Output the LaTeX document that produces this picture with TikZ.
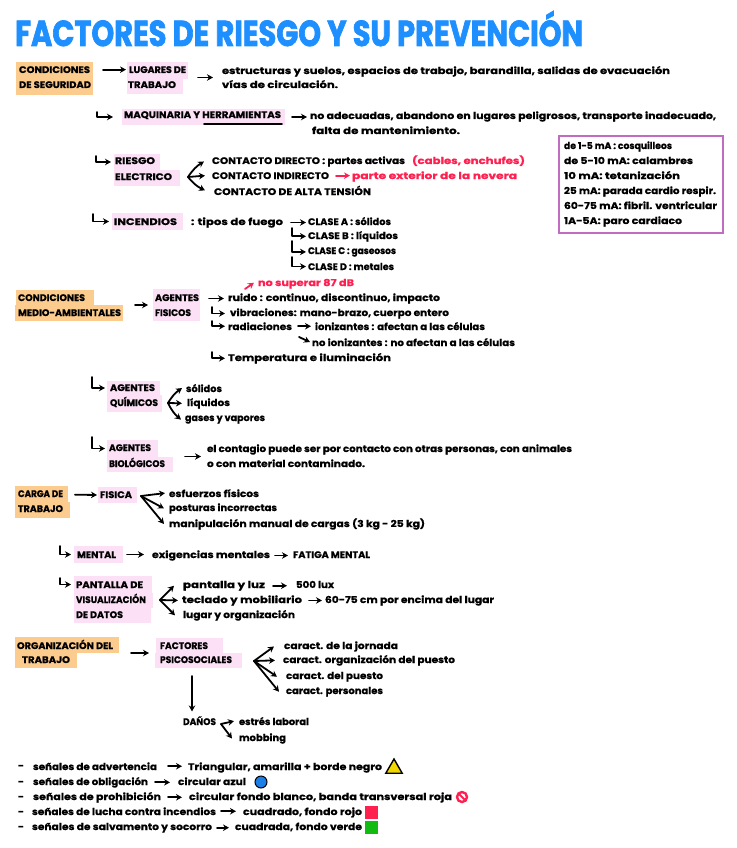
\documentclass[tikz,border=0pt]{standalone}
\usepackage{fontspec}
\usepackage{graphicx}
\setmainfont{Poppins}[BoldFeatures={FakeBold=0.7}]
\newfontfamily\titlefont{Poppins}[UprightFeatures={FakeBold=0},BoldFeatures={FakeBold=2.2}]
\usetikzlibrary{arrows.meta,calc,shapes.geometric}
\definecolor{titleblue}{HTML}{1E8FFF}
\definecolor{hlorange}{HTML}{FCCB8E}
\definecolor{hlpink}{HTML}{FBE0F6}
\definecolor{signred}{HTML}{FF2050}
\definecolor{boxpurple}{HTML}{C06CC0}
\definecolor{signgreen}{HTML}{12BB12}
\definecolor{signblue}{HTML}{1C7FE8}
\definecolor{signyellow}{HTML}{F2D600}
\tikzset{
  lab/.style={anchor=base west,inner sep=0pt,outer sep=0pt,font=\fontsize{9.5}{10}\selectfont\bfseries},
  orangehl/.style={fill=hlorange,inner sep=0pt,outer sep=0pt,anchor=north west},
  pinkhl/.style={fill=hlpink,inner sep=0pt,outer sep=0pt,anchor=north west},
  arr/.style={line width=1.8pt,line cap=round,line join=round,-{Stealth[length=6pt,width=6.5pt]}},
  redarr/.style={arr,draw=signred},
  plain/.style={line width=1.8pt,line cap=round}
}
% \lbl[colour]{name}{x0}{x1}{ycentre}{text}
\newcommand{\lbl}[6][black]{\node[lab,text=#1] (#2) at (#3,#5+3) {\resizebox{\dimexpr#4pt-#3pt\relax}{\height}{#6}};}
% \hlbox{style}{name}{x0}{y0}{x1}{y1}
\newcommand{\hlbox}[6]{\node[#1,minimum width=\dimexpr#5pt-#3pt\relax,minimum height=\dimexpr#6pt-#4pt\relax] (#2) at (#3,#4) {};}
\begin{document}
\begin{tikzpicture}[x=1pt,y=-1pt]
\useasboundingbox (0,0) rectangle (736,848);
\fill[white] (0,0) rectangle (736,848);
% ---------- highlights
\hlbox{orangehl}{hA}{16}{62}{93}{79}
\hlbox{orangehl}{hAb}{16}{79}{93}{95}
\hlbox{pinkhl}{hB}{127}{62}{188}{79}
\hlbox{pinkhl}{hBb}{127}{79}{183}{94}
\hlbox{pinkhl}{hC}{122}{109}{285}{125}
\hlbox{pinkhl}{hD}{114}{154}{160}{170}
\hlbox{pinkhl}{hDb}{114}{170}{180}{186}
\hlbox{pinkhl}{hE}{112}{213}{183}{230}
\hlbox{orangehl}{hF}{16}{290}{94}{305}
\hlbox{orangehl}{hFb}{15}{305}{123}{321}
\hlbox{pinkhl}{hG}{153}{289}{200}{321}
\hlbox{pinkhl}{hH}{107}{381}{160}{395}
\hlbox{pinkhl}{hHb}{107}{395}{162}{412}
\hlbox{pinkhl}{hI}{107}{440}{158}{457}
\hlbox{pinkhl}{hIb}{107}{457}{173}{472}
\hlbox{orangehl}{hJ}{15}{486}{68}{502}
\hlbox{orangehl}{hJb}{15}{502}{70}{518}
\hlbox{pinkhl}{hK}{98}{487}{137}{503}
\hlbox{pinkhl}{hL}{74}{546}{123}{563}
\hlbox{pinkhl}{hM}{74}{576}{152}{593}
\hlbox{pinkhl}{hMb}{74}{593}{153}{608}
\hlbox{pinkhl}{hMc}{74}{608}{151}{623}
\hlbox{orangehl}{hN}{15}{637}{119}{653}
\hlbox{orangehl}{hNb}{15}{653}{77}{668}
\hlbox{pinkhl}{hO}{156}{638}{223}{653}
\hlbox{pinkhl}{hOb}{155}{653}{242}{668}
% ---------- title
\node[anchor=base west,inner sep=0pt,text=titleblue,font=\titlefont\fontsize{36}{38}\selectfont\bfseries] (title) at (15,46) {\resizebox{568pt}{\height}{FACTORES DE RIESGO Y SU PREVENCIÓN}};
% ---------- condiciones de seguridad
\lbl{a1}{19}{90}{70}{CONDICIONES}
\lbl{a2}{19}{91}{85}{DE SEGURIDAD}
\lbl{b1}{129}{186}{70}{LUGARES DE}
\lbl{b2}{128}{176}{85}{TRABAJO}
\lbl{b3}{222}{670}{71}{estructuras y suelos, espacios de trabajo, barandilla, salidas de evacuación}
\lbl{b4}{222}{338}{85}{vías de circulación.}
\lbl{c1}{124}{281}{115}{MAQUINARIA Y HERRAMIENTAS}
\lbl{c2}{310}{716}{116}{no adecuadas, abandono en lugares peligrosos, transporte inadecuado,}
\lbl{c3}{312}{460}{131}{falta de mantenimiento.}
\lbl{d1}{115}{155}{161}{RIESGO}
\lbl{d2}{115}{172}{177}{ELECTRICO}
\lbl{d3}{212}{405}{161}{CONTACTO DIRECTO : partes activas}
\lbl[signred]{d4}{412}{525}{161}{(cables, enchufes)}
\lbl{d5}{212}{329}{176}{CONTACTO INDIRECTO}
\lbl[signred]{d6}{352}{517}{176}{parte exterior de la nevera}
\lbl{d7}{214}{371}{192}{CONTACTO DE ALTA TENSIÓN}
\lbl{e1}{114}{177}{222}{INCENDIOS}
\lbl{e2}{191}{283}{222}{: tipos de fuego}
\lbl{e3}{308}{391}{222}{CLASE A : sólidos}
\lbl{e4}{308}{398}{236}{CLASE B : líquidos}
\lbl{e5}{308}{396}{251}{CLASE C : gaseosos}
\lbl{e6}{308}{394}{267}{CLASE D : metales}
% ---------- box
\node[draw=boxpurple,line width=2pt,inner sep=0pt,minimum width=164pt,minimum height=97pt,anchor=north west] (mabox) at (558,135) {};
\lbl{m1}{564}{672}{146}{de 1-5 mA : cosquilleos}
\lbl{m2}{564}{693}{161}{de 5-10 mA: calambres}
\lbl{m3}{564}{680}{176}{10 mA: tetanización}
\lbl{m4}{564}{716}{191}{25 mA: parada cardio respir.}
\lbl{m5}{564}{717}{206}{60-75 mA: fibril. ventricular}
\lbl{m6}{564}{682}{221}{1A-5A: paro cardiaco}
% ---------- medio-ambientales
\lbl[signred]{f0}{258}{354}{283}{no superar 87 dB}
\lbl{f1}{18}{85}{298}{CONDICIONES}
\lbl{f2}{18}{121}{313}{MEDIO-AMBIENTALES}
\lbl{g1}{155}{199}{298}{AGENTES}
\lbl{g2}{155}{191}{313}{FISICOS}
\lbl{g3}{228}{440}{298}{ruido : continuo, discontinuo, impacto}
\lbl{g4}{230}{449}{313}{vibraciones: mano-brazo, cuerpo entero}
\lbl{g5}{228}{292}{327}{radiaciones}
\lbl{g6}{315}{485}{327}{ionizantes : afectan a las células}
\lbl{g7}{312}{515}{343}{no ionizantes : no afectan a las células}
\lbl{g8}{228}{391}{358}{Temperatura e iluminación}
\lbl{h1}{110}{155}{388}{AGENTES}
\lbl{h2}{110}{158}{403}{QUÍMICOS}
\lbl{h3}{186}{222}{389}{sólidos}
\lbl{h4}{187}{230}{403}{líquidos}
\lbl{h5}{185}{265}{418}{gases y vapores}
\lbl{i1}{109}{151}{448}{AGENTES}
\lbl{i2}{109}{165}{464}{BIOLÓGICOS}
\lbl{i3}{207}{572}{449}{el contagio puede ser por contacto con otras personas, con animales}
\lbl{i4}{207}{365}{464}{o con material contaminado.}
% ---------- carga de trabajo
\lbl{j1}{18}{63}{494}{CARGA DE}
\lbl{j2}{18}{63}{509}{TRABAJO}
\lbl{k1}{100}{132}{495}{FISICA}
\lbl{k2}{169}{259}{494}{esfuerzos físicos}
\lbl{k3}{169}{277}{508}{posturas incorrectas}
\lbl{k4}{169}{425}{524}{manipulación manual de cargas (3 kg - 25 kg)}
\lbl{l1}{77}{116}{555}{MENTAL}
\lbl{l2}{152}{270}{555}{exigencias mentales}
\lbl{l3}{293}{370}{555}{FATIGA MENTAL}
\lbl{n1}{76}{143}{585}{PANTALLA DE}
\lbl{n2}{76}{146}{600}{VISUALIZACIÓN}
\lbl{n3}{76}{123}{615}{DE DATOS}
\lbl{n4}{183}{265}{585}{pantalla y luz}
\lbl{n5}{296}{334}{585}{500 lux}
\lbl{n6}{182}{302}{600}{teclado y mobiliario}
\lbl{n7}{325}{494}{600}{60-75 cm por encima del lugar}
\lbl{n8}{183}{295}{615}{lugar y organización}
% ---------- organización
\lbl{o1}{17}{113}{646}{ORGANIZACIÓN DEL}
\lbl{o2}{22}{70}{660}{TRABAJO}
\lbl{p1}{160}{208}{646}{FACTORES}
\lbl{p2}{160}{232}{660}{PSICOSOCIALES}
\lbl{p3}{284}{398}{646}{caract. de la jornada}
\lbl{p4}{283}{455}{660}{caract. organización del puesto}
\lbl{p5}{286}{383}{676}{caract. del puesto}
\lbl{p6}{286}{383}{691}{caract. personales}
\lbl{q1}{183}{216}{722}{DAÑOS}
\lbl{q2}{239}{309}{722}{estrés laboral}
\lbl{q3}{239}{286}{738}{mobbing}
% ---------- señales
\lbl{s1a}{18}{24}{766}{-}
\lbl{s1}{33}{157}{767}{señales de advertencia}
\lbl{s1b}{188}{382}{767}{Triangular, amarilla + borde negro}
\lbl{s2a}{18}{24}{782}{-}
\lbl{s2}{33}{148}{782}{señales de obligación}
\lbl{s2b}{178}{246}{782}{circular azul}
\lbl{s3a}{18}{24}{797}{-}
\lbl{s3}{33}{161}{797}{señales de prohibición}
\lbl{s3b}{189}{452}{797}{circular fondo blanco, banda transversal roja}
\lbl{s4a}{18}{24}{812}{-}
\lbl{s4}{32}{216}{812}{señales de lucha contra incendios}
\lbl{s4b}{243}{362}{812}{cuadrado, fondo rojo}
\lbl{s5a}{18}{24}{827}{-}
\lbl{s5}{32}{212}{827}{señales de salvamento y socorro}
\lbl{s5b}{235}{362}{827}{cuadrada, fondo verde}
% sign icons
\node[draw=black,fill=signyellow,line width=1.4pt,regular polygon,regular polygon sides=3,inner sep=0pt,minimum size=19pt] (st) at (394,768.5) {};
\node[draw=black,fill=signblue,line width=1pt,circle,inner sep=0pt,minimum size=12pt] (sc) at (261,782) {};
\node[draw=signred,fill=white,line width=2.4pt,circle,inner sep=0pt,minimum size=10pt] (sp) at (462,797) {};
\draw[signred,line width=2pt] ([shift={(-3,-3)}]sp.center) -- ([shift={(3,3)}]sp.center);
\node[fill=signred,inner sep=0pt,minimum size=12.5pt,anchor=north west] (sr) at (365,806) {};
\node[fill=signgreen,inner sep=0pt,minimum size=12.5pt,anchor=north west] (sg) at (365,821) {};
% ---------- connectors
\draw[plain] (hC.south -| c1.east) ++(-77,-1) -- ++(78,0);
\draw[arr] ([xshift=10pt]hA.east |- a1.east) -- ([xshift=-1pt]hB.west |- a1.east);
\draw[arr] ([xshift=15pt]hBb.east) ++(0,-9) -- ++(15,0);
\draw[arr] ([xshift=7pt]hC.east) -- ([xshift=-3pt]c2.west |- hC.east);
\coordinate (u1) at (97,112);
\draw[arr] (u1) |- ([xshift=-9pt]hC.west);
\coordinate (u2) at (96,156);
\draw[arr] (u2) |- ([xshift=-3pt]hD.west);
\coordinate (fk1) at (188,177);
\draw[arr] (fk1) to[bend left=12] ([xshift=-8pt]d3.west);
\draw[arr] (fk1) -- ([xshift=-7pt]d5.west);
\draw[arr] (fk1) to[bend right=12] ([xshift=-9pt]d7.west);
\draw[redarr] ([xshift=7pt]d5.east) -- ([xshift=-2pt]d6.west |- d5.east);
\coordinate (u3) at (93,214);
\draw[arr] (u3) |- ([xshift=-3pt]hE.west);
\draw[arr] ([xshift=8pt]e2.east) -- ([xshift=-2pt]e3.west |- e2.east);
\coordinate (u4) at (292,228);
\draw[arr] (u4) |- ([xshift=-2pt]e4.west);
\coordinate (u5) at (292,241);
\draw[arr] (u5) |- ([xshift=-2pt]e5.west);
\coordinate (u6) at (292,257);
\draw[arr] (u6) |- ([xshift=-2pt]e6.west);
\coordinate (r1) at (245,289);
\draw[redarr] (r1) -- ([xshift=-4pt,yshift=1pt]f0.west);
\draw[arr] ([xshift=12pt]hFb.east |- hG.west) -- ([xshift=-5pt]hG.west);
\draw[arr] ([xshift=9pt]hG.east |- g3.west) -- ([xshift=-4pt]g3.west);
\coordinate (u7) at (212,307);
\draw[arr] (u7) |- ([xshift=-5pt]g4.west);
\coordinate (u8) at (212,321);
\draw[arr] (u8) |- ([xshift=-3pt]g5.west);
\draw[arr] ([xshift=6pt]g5.east) -- ([xshift=-4pt]g6.west |- g5.east);
\coordinate (v1) at (299,337);
\draw[arr] (v1) -- ([xshift=-2pt]g7.west);
\coordinate (u9) at (212,352);
\draw[arr] (u9) |- ([xshift=-3pt]g8.west);
\coordinate (u10) at (92,377);
\draw[arr] (u10) |- ([xshift=-2pt]hH.west);
\coordinate (fk2) at (168,403);
\draw[arr] (fk2) to[bend left=12] ([xshift=-4pt]h3.west);
\draw[arr] (fk2) -- ([xshift=-5pt]h4.west);
\draw[arr] (fk2) to[bend right=12] ([xshift=-4pt]h5.west);
\coordinate (u11) at (92,437);
\draw[arr] (u11) |- ([xshift=-2pt]hI.west);
\draw[arr] ([xshift=12pt]hIb.east) ++(0,-8) -- ++(16,0);
\draw[arr] ([xshift=7pt]hJ.east |- k1.west) -- ([xshift=-1pt]hK.west);
\coordinate (fk3) at (141,496);
\draw[arr] (fk3) -- ([xshift=-4pt]k2.west);
\draw[arr] (fk3) -- ([xshift=-5pt]k3.west);
\draw[arr] (fk3) -- ([xshift=-5pt]k4.west);
\coordinate (u12) at (60,546);
\draw[arr] (u12) |- ([xshift=-3pt]hL.west);
\draw[arr] ([xshift=4pt]hL.east) -- ([xshift=-8pt]l2.west |- hL.east);
\draw[arr] ([xshift=5pt]l2.east) -- ([xshift=-5pt]l3.west |- l2.east);
\coordinate (u13) at (60,578);
\draw[arr] (u13) |- ([xshift=-3pt]hM.west);
\coordinate (fk4) at (160,600);
\draw[arr] (fk4) -- ([xshift=-9pt]n4.west);
\draw[arr] (fk4) -- ([xshift=-4pt]n6.west);
\draw[arr] (fk4) -- ([xshift=-8pt]n8.west);
\draw[arr] ([xshift=8pt]n4.east) -- ([xshift=-9pt]n5.west |- n4.east);
\draw[arr] ([xshift=7pt]n6.east) -- ([xshift=-3pt]n7.west |- n6.east);
\draw[arr] ([xshift=54pt]hNb.east |- hOb.north west) -- ([xshift=-6pt]hOb.north west);
\draw[arr] ([xshift=-6.5pt]hOb.south) ++(0,8) -- ([xshift=-7.5pt,yshift=5pt]q1.north);
\coordinate (fk5) at (254,661);
\draw[arr] (fk5) -- ([xshift=-10pt]p3.west);
\draw[arr] (fk5) -- ([xshift=-8pt]p4.west);
\draw[arr] (fk5) -- ([xshift=-9pt]p5.west);
\draw[arr] (fk5) -- ([xshift=-7pt]p6.west);
\coordinate (fk6) at (221,724);
\draw[arr] (fk6) -- ([xshift=-5pt]q2.west);
\draw[arr] (fk6) -- ([xshift=-7pt]q3.west);
\draw[arr] ([xshift=11pt]s1.east) -- ([xshift=-6pt]s1b.west |- s1.east);
\draw[arr] ([xshift=7pt]s2.east) -- ([xshift=-8pt]s2b.west |- s2.east);
\draw[arr] ([xshift=7pt]s3.east) -- ([xshift=-7pt]s3b.west |- s3.east);
\draw[arr] ([xshift=5pt]s4.east) -- ([xshift=-7pt]s4b.west |- s4.east);
\draw[arr] ([xshift=5pt]s5.east) -- ([xshift=-6pt]s5b.west |- s5.east);
\end{tikzpicture}
\end{document}
